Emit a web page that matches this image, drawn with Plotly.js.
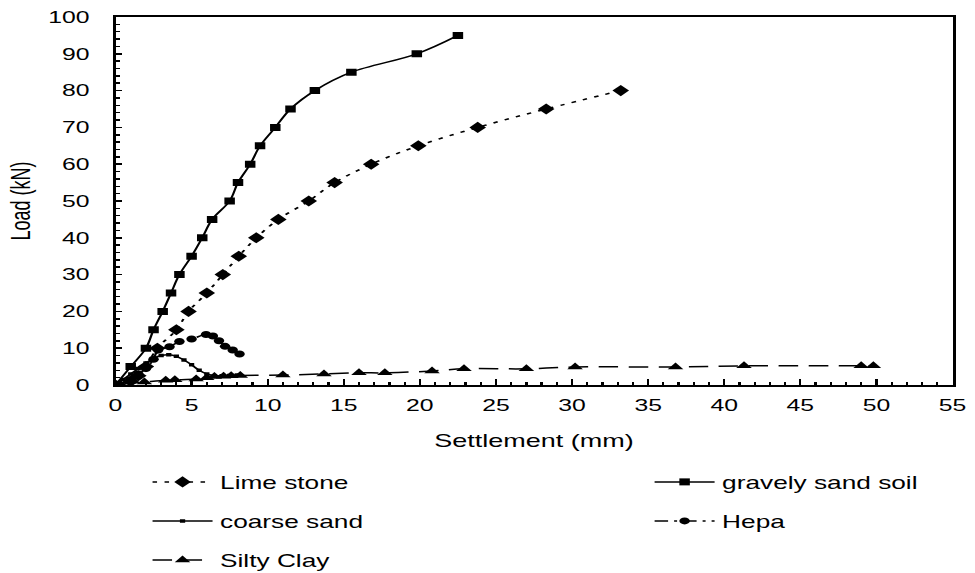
<!DOCTYPE html>
<html>
<head>
<meta charset="utf-8">
<script src="https://cdn.plot.ly/plotly-3.0.1.min.js"></script>
<style>
  html, body { margin: 0; padding: 0; background: #fff; overflow: hidden; }
  #wrap { width: 650px; height: 573px; transform: scaleX(1.5); transform-origin: 0 0; }
  #chart { width: 650px; height: 573px; }
</style>
</head>
<body>
<div id="wrap"><div id="chart"></div></div>
<script>
// Settlement (mm) / Load (kN) readings
const limeX = [0, 1.0, 1.5, 2.0, 2.75, 4.0, 4.8, 6.0, 7.05, 8.1, 9.25, 10.7, 12.7, 14.4, 16.8, 19.9, 23.8, 28.3, 33.2];
const limeY = [0, 1.0, 2.5, 5, 10, 15, 20, 25, 30, 35, 40, 45, 50, 55, 60, 65, 70, 75, 80];

const gravelX = [0, 1.0, 2.0, 2.5, 3.1, 3.65, 4.2, 5.0, 5.7, 6.35, 7.5, 8.05, 8.85, 9.5, 10.5, 11.5, 13.1, 15.5, 19.8, 22.5];
const gravelY = [0, 5, 10, 15, 20, 25, 30, 35, 40, 45, 50, 55, 60, 65, 70, 75, 80, 85, 90, 95];

const coarseX = [0, 0.5, 1.0, 1.5, 2.0, 2.5, 3.0, 3.5, 4.0, 4.5, 5.0, 5.5, 6.0, 6.5, 7.0, 7.5, 8.0];
const coarseY = [0, 1.5, 3.0, 4.5, 6.0, 7.2, 8.0, 8.2, 7.8, 6.8, 5.5, 4.0, 3.0, 2.5, 2.5, 2.6, 2.7];

const hepaX = [0, 1.0, 1.5, 2.0, 2.5, 2.8, 3.55, 4.2, 5.0, 5.95, 6.4, 6.8, 7.2, 7.7, 8.15];
const hepaY = [0, 1.5, 3.0, 4.5, 7.0, 9.5, 10.4, 11.8, 12.5, 13.7, 13.3, 12.0, 10.5, 9.5, 8.4];

const siltX = [0.3, 1.9, 3.3, 3.9, 5.3, 6.0, 6.5, 7.1, 7.6, 8.2, 11.0, 13.7, 16.0, 17.7, 20.8, 22.9, 27.0, 30.2, 36.8, 41.3, 49.0, 49.8];
const siltY = [0.2, 0.8, 1.3, 1.4, 1.6, 2.0, 2.3, 2.4, 2.5, 2.6, 2.7, 3.0, 3.3, 3.3, 3.8, 4.4, 4.4, 4.9, 4.9, 5.2, 5.2, 5.2];

const xTicks = [0, 5, 10, 15, 20, 25, 30, 35, 40, 45, 50, 55];
const yTicks = [0, 10, 20, 30, 40, 50, 60, 70, 80, 90, 100];

const FONT = 'Liberation Sans, Arial, sans-serif';

const traces = [
  { name: 'Lime stone', x: limeX, y: limeY, mode: 'lines+markers', legend: 'legend',
    line: { color: '#000', width: 1.5, dash: '3px,5px', shape: 'spline', smoothing: 1 },
    marker: { symbol: 'diamond', size: 8.5, color: '#000' } },
  { name: 'gravely sand soil', x: gravelX, y: gravelY, mode: 'lines+markers', legend: 'legend2',
    line: { color: '#000', width: 1.5, shape: 'spline', smoothing: 1 },
    marker: { symbol: 'square', size: 7, color: '#000' } },
  { name: 'coarse sand', x: coarseX, y: coarseY, mode: 'lines+markers', legend: 'legend3',
    line: { color: '#000', width: 1.5, shape: 'spline', smoothing: 1 },
    marker: { symbol: 'square', size: 3.5, color: '#000' } },
  { name: 'Hepa', x: hepaX, y: hepaY, mode: 'lines+markers', legend: 'legend4',
    line: { color: '#000', width: 1.5, dash: '9px,4px,2px,4px', shape: 'spline', smoothing: 1 },
    marker: { symbol: 'circle', size: 7, color: '#000' } },
  { name: 'Silty Clay', x: siltX, y: siltY, mode: 'lines+markers', legend: 'legend5',
    line: { color: '#000', width: 1.5, dash: '13px,7px', shape: 'spline', smoothing: 1 },
    marker: { symbol: 'triangle-up', size: 9, color: '#000' } }
];

// plot area (unscaled px): x 77..635, y 17..385
const PL = 77, PW = 558, PB = 385, PH = 368;
function legendAt(xPx, yPx) {
  return {
    orientation: 'h',
    x: (xPx - PL) / PW, xanchor: 'left', y: (PB - yPx) / PH, yanchor: 'middle',
    font: { family: FONT, size: 17.5, color: '#000' },
    itemwidth: 40,
    bgcolor: 'rgba(0,0,0,0)', borderwidth: 0
  };
}

const layout = {
  width: 650, height: 573,
  margin: { l: 77, r: 15, t: 17, b: 188, autoexpand: false },
  paper_bgcolor: '#fff', plot_bgcolor: '#fff',
  font: { family: FONT, color: '#000' },
  showlegend: true,
  xaxis: {
    range: [0, 55], tickvals: xTicks, ticktext: xTicks.map(String),
    showgrid: false, zeroline: false, showline: true, linecolor: '#000', linewidth: 2, mirror: true,
    ticks: 'inside', ticklen: 6, tickwidth: 1.5, tickcolor: '#000',
    minor: { dtick: 1, ticks: 'inside', ticklen: 3, tickwidth: 1.5, tickcolor: '#000' },
    tickfont: { family: FONT, size: 16.5, color: '#000' },
    ticklabelstandoff: 4,
    title: { text: 'Settlement (mm)', font: { family: FONT, size: 18, color: '#000' }, standoff: 22 },
    automargin: true, fixedrange: true
  },
  yaxis: {
    range: [0, 100], tickvals: yTicks, ticktext: yTicks.map(String),
    showgrid: false, zeroline: false, showline: true, linecolor: '#000', linewidth: 2, mirror: true,
    ticks: 'inside', ticklen: 4.5, tickwidth: 1.5, tickcolor: '#000',
    minor: { dtick: 2, ticks: 'inside', ticklen: 2.7, tickwidth: 1.5, tickcolor: '#000' },
    tickfont: { family: FONT, size: 16.5, color: '#000' },
    ticklabelstandoff: 12,
    title: { text: 'Load (kN)', font: { family: FONT, size: 18, color: '#000' }, standoff: 7 },
    automargin: true, fixedrange: true
  },
  legend: legendAt(96.7, 482),
  legend2: legendAt(431.4, 482),
  legend3: legendAt(96.7, 521),
  legend4: legendAt(431.4, 521),
  legend5: legendAt(96.7, 560)
};

Plotly.newPlot('chart', traces, layout, { displayModeBar: false, staticPlot: true });
</script>
</body>
</html>
